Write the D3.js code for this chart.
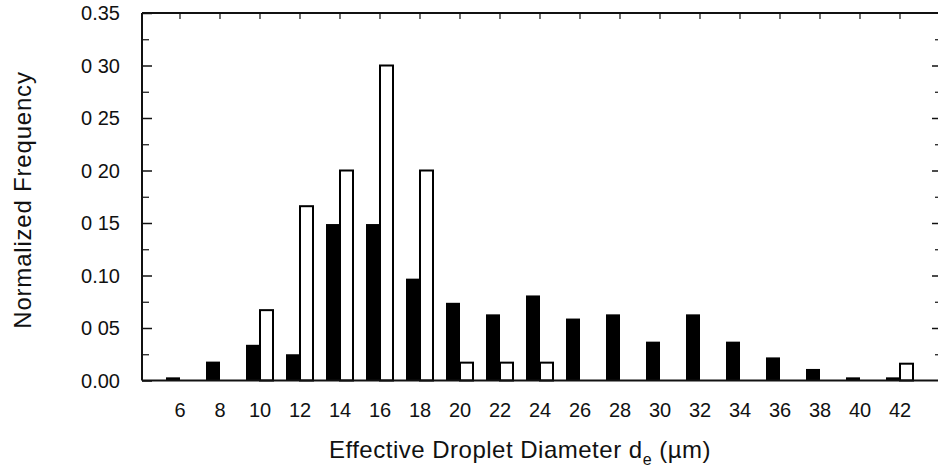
<!DOCTYPE html>
<html>
<head>
<meta charset="utf-8">
<script src="https://cdn.jsdelivr.net/npm/d3@7"></script>
<style>
  body { margin: 0; background: #fff; }
  text { font-family: "Liberation Sans", Arial, Helvetica, sans-serif; fill: #111; }
</style>
</head>
<body>
<div id="chart"></div>
<script>
// diameter classes (um)
var categories = ["6", "8", "10", "12", "14", "16", "18", "20", "22", "24", "26", "28", "30", "32", "34", "36", "38", "40", "42"];
// black bars
var blackValues = [0.003, 0.018, 0.034, 0.025, 0.149, 0.149, 0.097, 0.074, 0.063, 0.081, 0.059, 0.063, 0.037, 0.063, 0.037, 0.022, 0.011, 0.003, 0.003];
// white bars
var whiteValues = [0, 0, 0.067, 0.166, 0.200, 0.300, 0.200, 0.017, 0.017, 0.017, 0, 0, 0, 0, 0, 0, 0, 0, 0.016];
var yTickValues = [0, 0.05, 0.10, 0.15, 0.20, 0.25, 0.30, 0.35];
var yTickLabels = ["0.00", "0 05", "0.10", "0 15", "0 20", "0 25", "0 30", "0.35"];
var yMinorValues = [0.025, 0.075, 0.125, 0.175, 0.225, 0.275, 0.325];

var W = 938, H = 472;
var plotLeft = 142, plotRight = 938, plotTop = 13, plotBottom = 380.5;

var svg = d3.select("#chart")
	.append("svg")
		.attr("width", W)
		.attr("height", H);

var x = d3.scaleBand()
	.domain(categories)
	.range([plotLeft, plotRight])
	.paddingInner(0.3)
	.paddingOuter(0.6);

var x1 = d3.scaleBand()
	.domain(["black", "white"])
	.range([0, x.bandwidth()]);

var y = d3.scaleLinear()
	.domain([0, 0.35])
	.range([plotBottom, plotTop]);

var rows = categories.map(function(c, i) {
	return { key: c, black: blackValues[i], white: whiteValues[i] };
});

// black bars
svg.selectAll("blackBars")
	.data(rows.filter(function(d) { return d.black > 0; }))
	.enter()
	.append("rect")
		.attr("x", function(d) { return x(d.key) + x1("black"); })
		.attr("y", function(d) { return y(d.black); })
		.attr("width", x1.bandwidth())
		.attr("height", function(d) { return y(0) - y(d.black); })
		.style("fill", "#000");

// white (outlined) bars
svg.selectAll("whiteBars")
	.data(rows.filter(function(d) { return d.white > 0; }))
	.enter()
	.append("rect")
		.attr("x", function(d) { return x(d.key) + x1("white"); })
		.attr("y", function(d) { return y(d.white); })
		.attr("width", x1.bandwidth() - 1)
		.attr("height", function(d) { return y(0) - y(d.white); })
		.style("fill", "#fff")
		.attr("stroke", "#000")
		.attr("stroke-width", 2);

function plainTicks(g, w) {
	g.select(".domain").remove();
	g.selectAll(".tick line").attr("stroke", "#111").attr("stroke-width", w);
}

// left axis, ticks pointing inside
var yAxisLeft = svg.append("g").attr("transform", "translate(" + plotLeft + ",0)");
yAxisLeft.call(d3.axisRight(y).tickValues(yTickValues).tickSize(10).tickFormat(""))
	.call(plainTicks, 1.5);
yAxisLeft.append("g").call(d3.axisRight(y).tickValues(yMinorValues).tickSize(7).tickFormat(""))
	.call(plainTicks, 1.2);

// y tick labels
svg.selectAll("yLabels")
	.data(yTickValues)
	.enter()
	.append("text")
		.attr("x", 120)
		.attr("y", function(d) { return y(d); })
		.attr("dy", "0.36em")
		.attr("text-anchor", "end")
		.style("font-size", "20px")
		.text(function(d, i) { return yTickLabels[i]; });

// right axis ticks
var yAxisRight = svg.append("g").attr("transform", "translate(" + plotRight + ",0)");
yAxisRight.call(d3.axisLeft(y).tickValues(yTickValues.slice(1, 7)).tickSize(6).tickFormat(""))
	.call(plainTicks, 1.5);
yAxisRight.append("g").call(d3.axisLeft(y).tickValues(yMinorValues).tickSize(3).tickFormat(""))
	.call(plainTicks, 1.2);

// top axis, ticks at class centres pointing down
svg.append("g")
	.attr("transform", "translate(0," + plotTop + ")")
	.call(d3.axisBottom(x).tickSize(6).tickFormat(""))
	.call(plainTicks, 1.2);

// bottom axis labels only
svg.append("g")
	.attr("transform", "translate(0," + plotBottom + ")")
	.call(d3.axisBottom(x).tickSize(0).tickPadding(22))
	.call(function(g) {
		g.select(".domain").remove();
		g.selectAll(".tick text")
			.style("font-size", "20px")
			.style("font-family", "'Liberation Sans', Arial, sans-serif")
			.attr("fill", "#111");
	});

// frame lines
svg.append("line")
	.attr("x1", plotLeft).attr("x2", plotRight)
	.attr("y1", plotTop).attr("y2", plotTop)
	.attr("stroke", "#111").attr("stroke-width", 2);
svg.append("line")
	.attr("x1", plotLeft).attr("x2", plotRight)
	.attr("y1", plotBottom).attr("y2", plotBottom)
	.attr("stroke", "#111").attr("stroke-width", 2);
svg.append("line")
	.attr("x1", plotLeft).attr("x2", plotLeft)
	.attr("y1", plotTop).attr("y2", plotBottom)
	.attr("stroke", "#111").attr("stroke-width", 2);

// axis titles
svg.append("text")
	.attr("transform", "translate(31,200) rotate(-90)")
	.attr("text-anchor", "middle")
	.style("font-size", "24px")
	.style("letter-spacing", "0.8px")
	.text("Normalized Frequency");

var xt = svg.append("text")
	.attr("x", 520)
	.attr("y", 458)
	.attr("text-anchor", "middle")
	.style("font-size", "24px")
	.style("letter-spacing", "0.5px");
xt.append("tspan").text("Effective Droplet Diameter d");
xt.append("tspan").attr("dy", 7).style("font-size", "16px").text("e");
xt.append("tspan").attr("dy", -7).text(" (\u00b5m)");
</script>
</body>
</html>
